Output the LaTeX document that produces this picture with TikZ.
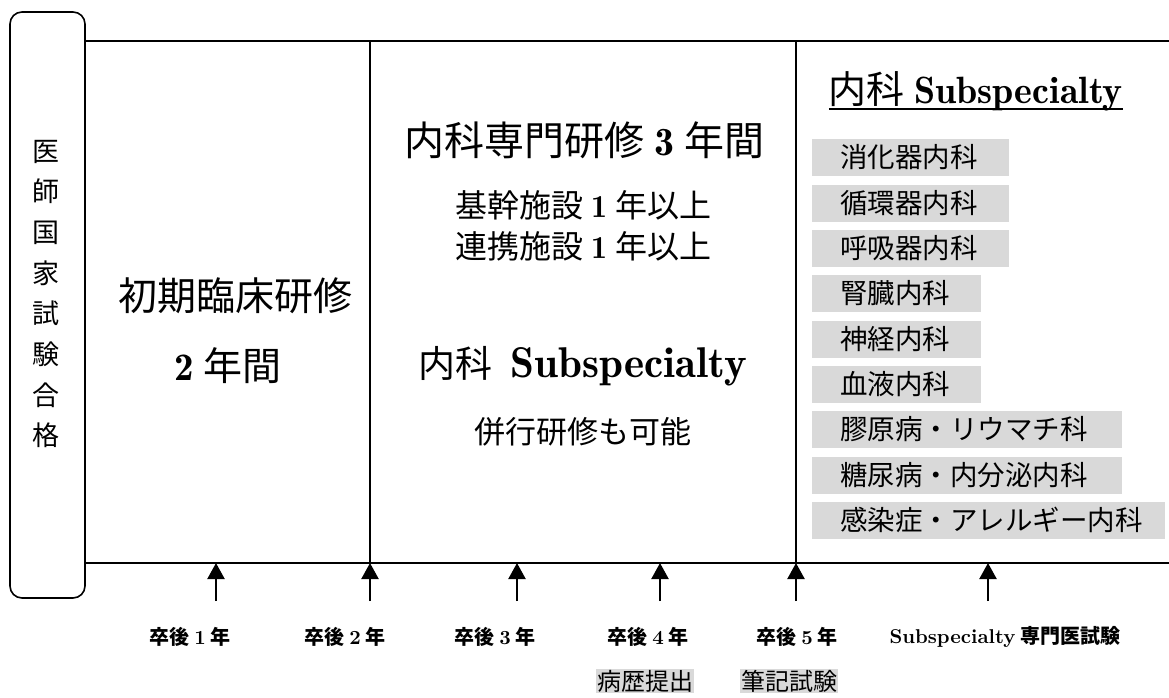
\documentclass[tikz,border=0pt]{standalone}
\usepackage{fontspec}
\setmainfont{lmromandemi10-regular.otf}[BoldFont=lmroman10-bold.otf]
\newfontfamily\cjk{Noto Sans CJK JP}
\usetikzlibrary{arrows.meta,calc}
\newcommand\jp[1]{{\cjk #1}}
\newcommand\fs[1]{\fontsize{#1}{#1}\selectfont}
\newcommand\jgap{\hspace{0.25em}}
\begin{document}
\begin{tikzpicture}[x=1pt,y=-1pt,
  frame/.style={line width=1.6pt},
  arr/.style={line width=2.2pt,-{Triangle[width=17pt,length=16pt]}},
  txt/.style={inner sep=0pt, align=center},
  spec/.style={anchor=west, fill=black!15, inner sep=0pt, minimum height=37pt, align=left, font=\cjk\fs{27.5}},
  yr/.style={inner sep=0pt, font=\bfseries\fs{20}},
  hl/.style={fill=black!15, inner sep=1pt, font=\cjk\fs{24}}]
\useasboundingbox (0,0) rectangle (1169,698);
% frame
\draw[frame, rounded corners=12pt] (10,12) rectangle (85,598);
\draw[frame] (85,41) -- (1169,41);
\draw[frame] (85,563) -- (1169,563);
\draw[frame] (370,41) -- (370,563);
\draw[frame] (796,41) -- (796,563);
% left box
\node[txt, font=\cjk\fontsize{27}{40.7}\selectfont] (exam) at (46,294) {医\\師\\国\\家\\試\\験\\合\\格};
% column 1
\node[txt, font=\cjk\fs{39}] (init) at (235,296) {初期臨床研修};
\node[txt, font=\fs{39}] (init2) at (228,366) {2\jgap\jp{年間}};
% column 2
\node[txt, font=\fs{40}] (spec3) at (584,140) {\jp{内科専門研修}\jgap 3\jgap\jp{年間}};
\node[txt, font=\fs{32}] (core) at (583,205) {\jp{基幹施設}\jgap 1\jgap\jp{年以上}};
\node[txt, font=\fs{32}] (coop) at (583,246) {\jp{連携施設}\jgap 1\jgap\jp{年以上}};
\node[txt, font=\fs{43}] (sub) at (583,366) {{\cjk\fs{37}内科}\hspace{18pt}Subspecialty};
\node[txt, font=\cjk\fs{31}] (para) at (583,432) {併行研修も可能};
% column 3
\node[txt, font=\fs{38}, anchor=base] (hdr) at (976,104) {\jp{内科}\jgap Subspecialty};
\draw[line width=1.5pt] ($(hdr.base west)+(0,5)$) -- ($(hdr.base east)+(0,5)$);
\node[spec, text width=197pt] (s1) at (812,157) {\hspace*{28pt}消化器内科};
\node[spec, text width=197pt] (s2) at (812,203) {\hspace*{28pt}循環器内科};
\node[spec, text width=197pt] (s3) at (812,248) {\hspace*{28pt}呼吸器内科};
\node[spec, text width=169pt] (s4) at (812,293) {\hspace*{28pt}腎臓内科};
\node[spec, text width=169pt] (s5) at (812,339) {\hspace*{28pt}神経内科};
\node[spec, text width=169pt] (s6) at (812,384) {\hspace*{28pt}血液内科};
\node[spec, text width=310pt] (s7) at (812,429) {\hspace*{28pt}膠原病・リウマチ科};
\node[spec, text width=310pt] (s8) at (812,475) {\hspace*{28pt}糖尿病・内分泌内科};
\node[spec, text width=353pt] (s9) at (812,520) {\hspace*{28pt}感染症・アレルギー内科};
% arrows
\foreach \i/\x in {1/216,2/370,3/517,4/660,5/796,6/988}{
  \coordinate (t\i) at (\x,563);
  \coordinate (b\i) at (\x,601);
  \draw[arr] (b\i) -- (t\i);
}
% year labels
\node[yr] (y1) at (190,637) {\jp{卒後}\jgap 1\jgap\jp{年}};
\node[yr] (y2) at (345,637) {\jp{卒後}\jgap 2\jgap\jp{年}};
\node[yr] (y3) at (495,637) {\jp{卒後}\jgap 3\jgap\jp{年}};
\node[yr] (y4) at (648,637) {\jp{卒後}\jgap 4\jgap\jp{年}};
\node[yr] (y5) at (797,637) {\jp{卒後}\jgap 5\jgap\jp{年}};
\node[yr] (y6) at (1005,637) {Subspecialty\jgap\jp{専門医試験}};
\node[hl] (h1) at (645,681) {病歴提出};
\node[hl] (h2) at (789,681) {筆記試験};
\end{tikzpicture}
\end{document}
